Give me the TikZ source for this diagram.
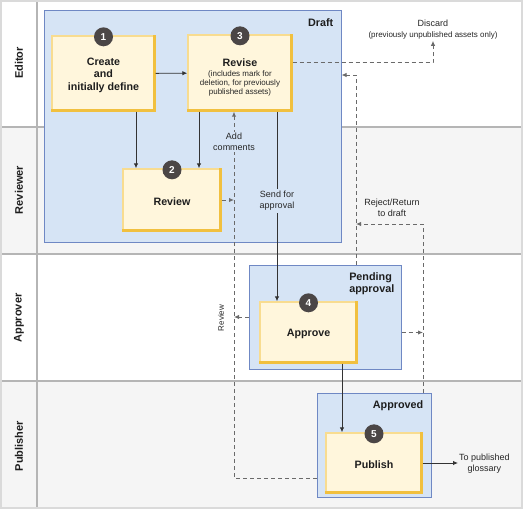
\documentclass[tikz,border=0pt]{standalone}
\usepackage{fontspec}
\setmainfont{Liberation Sans}
\setsansfont{Liberation Sans}
\usetikzlibrary{arrows.meta,calc}
\definecolor{lanegrey}{HTML}{F5F5F5}
\definecolor{laneline}{HTML}{B5B5B5}
\definecolor{frameline}{HTML}{DADADA}
\definecolor{groupfill}{HTML}{D6E4F5}
\definecolor{groupline}{HTML}{6F88C4}
\definecolor{taskfill}{HTML}{FFF6DC}
\definecolor{taskline}{HTML}{F8DC90}
\definecolor{taskedge}{HTML}{F1C03F}
\definecolor{badgefill}{HTML}{4B4646}
\definecolor{dashcol}{HTML}{6A6A6A}
\definecolor{txt}{HTML}{1E1E1E}
\tikzset{
  lanelabel/.style={rotate=90, font=\fontsize{11}{13}\selectfont\bfseries, text=txt},
  groupbox/.style={rectangle, fill=groupfill, draw=groupline, line width=1pt, inner sep=0pt},
  grouptitle/.style={font=\fontsize{10.8}{12}\selectfont\bfseries, text=txt, align=left, inner sep=0pt},
  task/.style={rectangle, fill=taskfill, draw=taskline, line width=1.4pt, inner sep=2pt, align=center,
     font=\fontsize{10.7}{12.5}\selectfont\bfseries, text=txt},
  taskedgeline/.style={draw=taskedge, line width=2.4pt},
  badge/.style={circle, fill=badgefill, text=white, minimum size=19pt, inner sep=0pt,
     font=\fontsize{10}{12}\selectfont\bfseries},
  arr/.style={draw=black!80, line width=0.9pt, -{Latex[length=5pt,width=4.5pt]}},
  dasharr/.style={draw=dashcol, line width=1pt, dash pattern=on 4pt off 3pt, -{Latex[length=5pt,width=4.5pt]}},
  smalltext/.style={font=\fontsize{9}{11}\selectfont, text=black!85, align=center, inner sep=1pt},
}
\begin{document}
\begin{tikzpicture}[x=1pt,y=-1pt]
\useasboundingbox (0,0) rectangle (523,509);
% lanes
\fill[white] (0,0) rectangle (523,509);
\fill[lanegrey] (0,127) rectangle (523,254);
\fill[lanegrey] (0,381) rectangle (523,508);
\draw[laneline, line width=2pt] (0,127) -- (523,127);
\draw[laneline, line width=2pt] (0,254) -- (523,254);
\draw[laneline, line width=2pt] (0,381) -- (523,381);
\draw[laneline, line width=2pt] (36.5,0) -- (36.5,508);
\draw[frameline, line width=2pt] (1,0.5) rectangle (522,508);
% lane labels
\node[lanelabel] (lEditor) at (19,63) {Editor};
\node[lanelabel] (lReviewer) at (19,190) {Reviewer};
\node[lanelabel] (lApprover) at (19,318) {Approver};
\node[lanelabel] (lPublisher) at (19,446) {Publisher};
% group boxes
\node[groupbox, minimum width=297pt, minimum height=232pt] (draft) at (192.5,126) {};
\node[groupbox, minimum width=152pt, minimum height=104pt] (pending) at (325,317) {};
\node[groupbox, minimum width=114pt, minimum height=104pt] (approved) at (374,445) {};
\node[grouptitle, anchor=north east] (tDraft) at ([xshift=-8pt,yshift=-9pt]draft.north east) {Draft};
\node[grouptitle, anchor=north east] (tPending) at ([xshift=-7pt,yshift=-8pt]pending.north east) {Pending\\approval};
\node[grouptitle, anchor=north east] (tApproved) at ([xshift=-8pt,yshift=-8pt]approved.north east) {Approved};
% tasks
\node[task, minimum width=103pt, minimum height=75pt] (n1) at (103.5,73.5) {\rule{0pt}{11pt}Create\\and\\initially define};
\node[task, minimum width=104pt, minimum height=76pt, font=\fontsize{8}{9}\selectfont, text=black!85] (n3) at (240,73)
  {{\fontsize{10.7}{13}\selectfont\bfseries\color{txt}\rule{0pt}{16pt}Revise}\\[1pt](includes mark for\\deletion, for previously\\published assets)};
\node[task, minimum width=98pt, minimum height=62pt] (n2) at (172,200) {\rule{0pt}{11pt}Review};
\node[task, minimum width=97pt, minimum height=61pt] (n4) at (308.5,332.5) {\rule{0pt}{11pt}Approve};
\node[task, minimum width=96pt, minimum height=60pt] (n5) at (374,463) {\rule{0pt}{11pt}Publish};
\foreach \n in {n1,n2,n3,n4,n5}{
  \draw[taskedgeline] ([yshift=1.2pt]\n.south west) -- ([xshift=-1.2pt,yshift=1.2pt]\n.south east) -- ([xshift=-1.2pt]\n.north east);
}
\node[badge] (b1) at ([yshift=-1.5pt]n1.north) {1};
\node[badge] (b2) at ([yshift=-1.5pt]n2.north) {2};
\node[badge] (b3) at ([yshift=-1.5pt]n3.north) {3};
\node[badge] (b4) at ([yshift=-1.5pt]n4.north) {4};
\node[badge] (b5) at ([yshift=-1.5pt]n5.north) {5};
% helper coordinates
\coordinate (c1) at (136,0);
\coordinate (c2) at (199,0);
\coordinate (c3) at (277,0);
\coordinate (c4) at (342,0);
\coordinate (v1) at (234,0);
\coordinate (v2) at (356,0);
\coordinate (v3) at (423,0);
\coordinate (v4) at (433,0);
\coordinate (yDis) at (0,62.7);
\coordinate (yRej1) at (0,75);
\coordinate (yRej2) at (0,224);
\coordinate (yLoop) at (0,478);
% solid connectors
\draw[arr] (n1) -- (n3);
\draw[arr] (n1.south -| c1) -- (n2.north -| c1);
\draw[arr] (n3.south -| c2) -- (n2.north -| c2);
\draw[arr] (n3.south -| c3) -- node[pos=0.47, smalltext, fill=groupfill, inner sep=2pt] (lSend) {Send for\\approval} (n4.north -| c3);
\draw[arr] (n4.south -| c4) -- (n5.north -| c4);
\node[smalltext, anchor=west] (glossary) at (458,464) {To published\\glossary};
\draw[arr] (n5.east) -- (glossary.west |- n5.east);
% dashed connectors
\draw[dasharr] (n2.east) -- (n2.east -| v1);
\draw[dasharr] (approved.west |- yLoop) -- (v1 |- yLoop) -- (n3.south -| v1);
\node[smalltext, fill=groupfill] (lAdd) at (234,142) {Add\\comments};
\node[smalltext, rotate=90, font=\fontsize{8}{10}\selectfont] (lReview) at (221,318) {Review};
\draw[dasharr] (pending.west) -- (pending.west -| v1);
\node[smalltext] (discard) at (433,30) {Discard\\{\fontsize{8}{9}\selectfont (previously unpublished assets only)}};
\draw[dasharr] (n3.east |- yDis) -- (v4 |- yDis) -- (discard.south -| v4);
\draw[dasharr] (pending.north -| v2) -- (v2 |- yRej1) -- (draft.east |- yRej1);
\draw[dasharr] (approved.north -| v3) -- (v3 |- yRej2) -- (v2 |- yRej2);
\node[smalltext] (lReject) at (392,208) {Reject/Return\\to draft};
\draw[dasharr] (pending.east |- n4) -- (v3 |- n4);
\end{tikzpicture}
\end{document}
